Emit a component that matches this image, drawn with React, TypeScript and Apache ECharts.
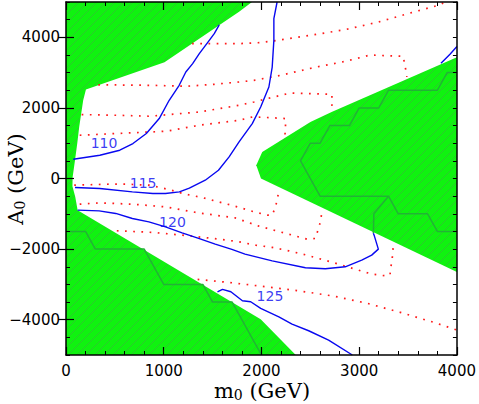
import React, { useEffect, useRef } from "react";
import * as echarts from "echarts";

// ---- axis ticks ----
const xTicks = [0, 1000, 2000, 3000, 4000];
const yTicks = [-4000, -2000, 0, 2000, 4000];

// ---- excluded (green) regions, [m0, A0] ----
const excludedLeft: number[][] = [
  [0, 5000], [1903, 5000], [1771, 4726], [1008, 3291], [204, 2518], [176, 2215],
  [135, 1460], [115, 990], [92, 518], [68, 45], [66, -218], [95, -521], [119, -897],
  [1992, -3990], [2351, -5000], [0, -5000],
];
const excludedRight: number[][] = [
  [4000, 3433], [2718, 1885], [2501, 1602], [2008, 753], [1947, 376], [1995, 0], [4000, -2652],
];

// ---- darker green stepped contours inside the excluded regions ----
const stepLeft: number[][] = [
  [0, -1500], [200, -1500], [300, -2000], [800, -2000], [1000, -3000], [1400, -3000],
  [1500, -3500], [1700, -3500], [2000, -5000],
];
const stepRight: number[][] = [
  [4000, 3000], [3900, 3000], [3800, 2500], [3300, 2500], [3200, 2000], [3000, 2000],
  [2900, 1500], [2700, 1500], [2600, 1000], [2500, 1000], [2400, 500], [2600, -500],
  [3300, -500], [3400, -1000], [3700, -1000], [3800, -1500], [4000, -1500],
];
const stepRightBranch: number[][] = [[3300, -500], [3150, -1000], [3145, -1548]];

// ---- red dotted contours ----
const redA: number[][] = [
  [1290, 3820], [1771, 3820], [1992, 3849], [2161, 3914], [2501, 4056], [2857, 4217],
  [3196, 4432], [3535, 4698], [3807, 4905], [3880, 5000],
];
const redB: number[][] = [
  [330, 2655], [855, 2640], [1228, 2612], [1517, 2669], [1771, 2734], [1924, 2782],
  [2195, 2923], [2534, 3141], [2873, 3328], [3111, 3498], [3366, 3470], [3450, 3461],
  [3468, 3206], [3484, 2972], [3488, 2880],
];
const redC: number[][] = [
  [160, 1811], [516, 1791], [855, 1763], [1364, 1885], [1771, 2074], [1924, 2168],
  [2094, 2287], [2297, 2422], [2466, 2406], [2721, 2386], [2721, 2122], [2723, 1960],
];
const redD: number[][] = [
  [140, 1225], [516, 1274], [1025, 1339], [1364, 1508], [1771, 1650], [1906, 1743],
  [2076, 1726], [2246, 1698], [2246, 1460], [2240, 1210],
];
const redE: number[][] = [
  [84, -190], [441, -161], [611, -161], [855, -190], [1051, -311], [1221, -444],
  [1391, -538], [1560, -662], [1730, -784], [1890, -917], [2059, -1039], [2110, -1039],
  [2144, -804], [2161, -594], [2180, -330],
];
const redF: number[][] = [
  [140, -727], [339, -691], [679, -727], [1018, -804], [1357, -974], [1730, -1115],
  [1975, -1350], [2229, -1540], [2466, -1718], [2552, -1698], [2578, -1463], [2603, -1228],
  [2620, -920],
];
const redG: number[][] = [
  [520, -1480], [899, -1528], [1255, -1624], [1595, -1726], [1771, -1794], [1941, -1888],
  [2110, -1953], [2280, -2049], [2450, -2162], [2619, -2292], [2789, -2425], [2959, -2567],
  [3128, -2708], [3264, -2756], [3315, -2737], [3325, -2502], [3338, -2264], [3349, -1900],
];
const redH: number[][] = [
  [1347, -2858], [1703, -2955], [2043, -3068], [2399, -3189], [2738, -3331], [3084, -3538],
  [3420, -3792], [3763, -4075], [4000, -4293],
];

// ---- blue Higgs-mass contours ----
const mh110: number[][] = [
  [74, 546], [346, 659], [550, 801], [685, 991], [822, 1274], [954, 1698], [1056, 2216],
  [1158, 2640], [1226, 3017], [1296, 3254], [1364, 3537], [1466, 3914], [1517, 4104], [1568, 4350],
];
const mh115: number[][] = [
  [2160, 5000], [2127, 4528], [2127, 3914], [2110, 3158], [2076, 2592], [1992, 2026],
  [1906, 1556], [1771, 1036], [1669, 611], [1560, 235], [1425, -48], [1262, -275],
  [1160, -379], [1018, -425], [889, -425], [679, -379], [346, -283], [92, -255],
];
const mh115b: number[][] = [[4000, 3740], [3929, 3518], [3837, 3263]];
const mh120: number[][] = [
  [119, -897], [339, -917], [509, -990], [679, -1132], [848, -1228], [1018, -1370],
  [1188, -1540], [1357, -1698], [1527, -1859], [1697, -2009], [1832, -2142], [2110, -2332],
  [2450, -2530], [2653, -2558], [2857, -2502], [3026, -2312], [3128, -2171], [3196, -2001],
  [3155, -1624], [3145, -1548],
];
const mh125: number[][] = [
  [1550, -3209], [1601, -3141], [1687, -3209], [1805, -3464], [1890, -3492], [1992, -3679],
  [2178, -3917], [2313, -4123], [2483, -4313], [2687, -4576], [2930, -5000],
];

const contourNames = ["110", "115", "120", "125"];
const contourLabelPos: number[][] = [[389, 1013], [789, -119], [1089, -1223], [2087, -3320]];

function makeHatch(): string {
  const c = document.createElement("canvas");
  c.width = 9;
  c.height = 9;
  const g = c.getContext("2d")!;
  g.fillStyle = "#10f210";
  g.fillRect(0, 0, 9, 9);
  g.strokeStyle = "#2cca2c";
  g.lineWidth = 1;
  g.beginPath();
  g.moveTo(-1, 10);
  g.lineTo(10, -1);
  g.moveTo(-1, 1);
  g.lineTo(1, -1);
  g.moveTo(8, 10);
  g.lineTo(10, 8);
  g.stroke();
  return c.toDataURL();
}

export default function App() {
  const ref = useRef<HTMLDivElement>(null);

  useEffect(() => {
    if (!ref.current) return;
    const chart = echarts.init(ref.current, null, { renderer: "svg" });
    const hatch = makeHatch();
    const fill: any = { image: hatch, repeat: "repeat", imageWidth: 9, imageHeight: 9 };

    const polySeries = (poly: number[][]) => ({
      type: "custom",
      coordinateSystem: "cartesian2d",
      xAxisIndex: 0,
      yAxisIndex: 0,
      z: 1,
      silent: true,
      clip: true,
      data: poly,
      renderItem: (params: any, api: any) => {
        if (params.dataIndex !== 0) return null;
        const pts = poly.map((p) => api.coord(p));
        return { type: "polygon", shape: { points: pts }, style: { fill, stroke: null } };
      },
    });

    const line = (data: number[][], color: string, width: number, type: any, z: number) => ({
      type: "line",
      data,
      symbol: "none",
      showSymbol: false,
      silent: true,
      clip: true,
      z,
      lineStyle: { color, width, type, cap: "butt" },
    });

    const dark = "#22b336";
    const red = "#ff1a1a";
    const blue = "#0808f0";
    const dots = [1.7, 6.5];

    const tickFont = { color: "#000", fontFamily: "DejaVu Sans", fontSize: 15 };
    const frame = { show: true, onZero: false, lineStyle: { color: "#000", width: 1.5 } };
    const fmt = (v: number) => (v < 0 ? "\u2212" + String(-v) : String(v));

    const xBase = (pos: string, labels: boolean) => ({
      type: "value",
      position: pos,
      min: xTicks[0],
      max: xTicks[xTicks.length - 1],
      interval: 1000,
      z: 10,
      axisLine: frame,
      axisTick: { inside: true, length: 8, lineStyle: { color: "#000", width: 1.2 } },
      minorTick: { show: true, splitNumber: 5, length: 4, lineStyle: { color: "#000", width: 1 } },
      axisLabel: labels ? { ...tickFont, margin: 8, formatter: fmt } : { show: false },
      splitLine: { show: false },
      minorSplitLine: { show: false },
    });
    const yMinor = (pos: string) => ({
      type: "value",
      position: pos,
      min: -5000,
      max: 5000,
      interval: 500,
      z: 10,
      axisLine: frame,
      axisTick: { inside: true, length: 4, lineStyle: { color: "#000", width: 1 } },
      axisLabel: { show: false },
      splitLine: { show: false },
    });
    const yMajor = (pos: string, labels: boolean) => ({
      type: "value",
      position: pos,
      min: -5000,
      max: 5000,
      interval: 500,
      z: 10,
      axisLine: { show: false },
      axisTick: { inside: true, length: 8, customValues: yTicks, lineStyle: { color: "#000", width: 1.2 } },
      axisLabel: labels
        ? { ...tickFont, margin: 6, customValues: yTicks, formatter: fmt }
        : { show: false },
      splitLine: { show: false },
    });

    const rich = {
      m: { fontFamily: "DejaVu Serif", fontSize: 21, color: "#000" },
      s: { fontFamily: "DejaVu Serif", fontSize: 14, color: "#000", verticalAlign: "bottom", lineHeight: 14 },
    };

    chart.setOption({
      animation: false,
      grid: { left: 66, right: 20, top: 2, bottom: 49, containLabel: false },
      xAxis: [xBase("bottom", true), xBase("top", false)],
      yAxis: [yMinor("left"), yMajor("left", true), yMinor("right"), yMajor("right", false)],
      series: [
        polySeries(excludedLeft),
        polySeries(excludedRight),
        line(stepLeft, dark, 1.5, "solid", 2),
        line(stepRight, dark, 1.5, "solid", 2),
        line(stepRightBranch, dark, 1.5, "solid", 2),
        line(redA, red, 1.7, dots, 3),
        line(redB, red, 1.7, dots, 3),
        line(redC, red, 1.7, dots, 3),
        line(redD, red, 1.7, dots, 3),
        line(redE, red, 1.7, dots, 3),
        line(redF, red, 1.7, dots, 3),
        line(redG, red, 1.7, dots, 3),
        line(redH, red, 1.7, dots, 3),
        line(mh110, blue, 1.4, "solid", 4),
        line(mh115, blue, 1.4, "solid", 4),
        line(mh115b, blue, 1.4, "solid", 4),
        line(mh120, blue, 1.4, "solid", 4),
        line(mh125, blue, 1.4, "solid", 4),
        {
          type: "scatter",
          z: 5,
          silent: true,
          symbolSize: 1,
          itemStyle: { color: "rgba(0,0,0,0)" },
          data: contourNames.map((n, i) => ({ name: n, value: contourLabelPos[i] })),
          label: {
            show: true,
            position: "inside",
            formatter: "{b}",
            color: blue,
            fontFamily: "DejaVu Sans",
            fontSize: 14,
          },
        },
      ],
      graphic: [
        {
          type: "text",
          x: 262,
          y: 391,
          z: 20,
          style: {
            text: "{m|m}{s|0}{m| (GeV)}",
            rich,
            align: "center",
            verticalAlign: "middle",
            textAlign: "center",
            textVerticalAlign: "middle",
          },
        },
        {
          type: "text",
          x: 16,
          y: 179,
          rotation: Math.PI / 2,
          z: 20,
          style: {
            text: "{m|A}{s|0}{m| (GeV)}",
            rich,
            align: "center",
            verticalAlign: "middle",
            textAlign: "center",
            textVerticalAlign: "middle",
          },
        },
      ],
    });
    return () => chart.dispose();
  }, []);

  return (
    <div
      ref={ref}
      style={{ position: "fixed", left: 0, top: 0, width: 479, height: 404, background: "#fff" }}
    />
  );
}
